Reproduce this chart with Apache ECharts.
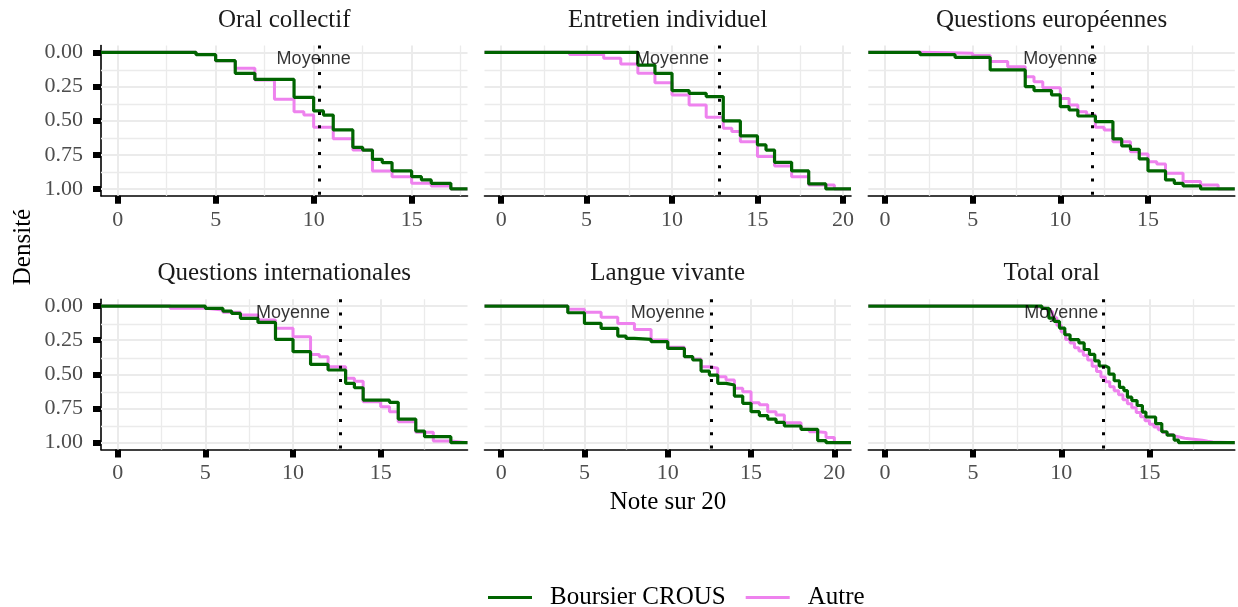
<!DOCTYPE html>
<html>
<head>
<meta charset="utf-8">
<script src="https://cdn.jsdelivr.net/npm/echarts@6/dist/echarts.min.js"></script>
<style>
html, body { margin: 0; padding: 0; background: #fff; }
#chart { width: 1238px; height: 607px; }
</style>
</head>
<body>
<div id="chart"></div>
<script>
// facettes
const panelTitles = ['Oral collectif', 'Entretien individuel', 'Questions européennes',
  'Questions internationales', 'Langue vivante', 'Total oral']
const means = [10.27, 12.76, 11.81, 12.68, 12.61, 12.38]
const xTicks = [[0, 5, 10, 15], [0, 5, 10, 15, 20], [0, 5, 10, 15],
  [0, 5, 10, 15], [0, 5, 10, 15, 20], [0, 5, 10, 15]]
const yTicks = [0, 0.25, 0.5, 0.75, 1]

// fonction de répartition : [note, proportion cumulée]
const oralCollectifBoursier = [[4, 0.017], [5, 0.061], [6, 0.154], [7, 0.198], [9, 0.329], [10, 0.429], [10.5, 0.459], [11, 0.568], [12, 0.695], [12.5, 0.715], [13, 0.783], [13.5, 0.807], [14, 0.868], [15, 0.91], [15.5, 0.934], [16, 0.959], [17, 1]]
const oralCollectifAutre = [[4, 0.015], [5, 0.061], [6, 0.117], [7, 0.202], [8, 0.344], [9, 0.434], [9.5, 0.459], [10, 0.549], [11, 0.632], [12, 0.715], [13, 0.868], [14, 0.91], [15, 0.959], [16, 0.978], [17, 1]]

const entretienBoursier = [[8, 0.093], [9, 0.154], [10, 0.28], [11, 0.3], [12, 0.324], [13, 0.502], [14, 0.612], [15, 0.678], [15.5, 0.715], [16, 0.805], [17, 0.868], [18, 0.963], [19, 1]]
const entretienAutre = [[4, 0.015], [6, 0.044], [7, 0.085], [8, 0.154], [9, 0.222], [10, 0.312], [11, 0.385], [12, 0.476], [13, 0.556], [13.5, 0.58], [14, 0.654], [15, 0.763], [16, 0.832], [17, 0.91], [18, 0.971], [19.5, 1]]

const europeennesBoursier = [[2, 0.017], [4, 0.037], [6, 0.129], [8, 0.251], [8.5, 0.28], [9.5, 0.312], [10, 0.398], [10.5, 0.422], [11, 0.466], [12, 0.507], [13, 0.634], [13.5, 0.685], [14, 0.71], [14.5, 0.78], [15, 0.868], [16, 0.934], [16.5, 0.959], [17, 0.978], [18, 1]]
const europeennesAutre = [[2, 0.007], [5, 0.024], [6, 0.068], [7, 0.105], [8, 0.178], [8.5, 0.215], [9, 0.259], [10, 0.337], [10.5, 0.385], [11, 0.434], [11.5, 0.459], [12, 0.549], [12.5, 0.568], [13, 0.654], [14, 0.727], [14.5, 0.744], [15, 0.8], [15.5, 0.817], [16, 0.885], [17, 0.946], [18, 0.971], [19, 1]]

const internationalesBoursier = [[5, 0.017], [6, 0.037], [6.5, 0.054], [7, 0.09], [8, 0.12], [9, 0.244], [10, 0.334], [11, 0.427], [12, 0.468], [13, 0.566], [13.5, 0.598], [14, 0.688], [15.5, 0.705], [16, 0.827], [17, 0.915], [17.5, 0.956], [19, 1]]
const internationalesAutre = [[3, 0.017], [5, 0.03], [6, 0.046], [7, 0.066], [8, 0.102], [9, 0.163], [10, 0.224], [11, 0.354], [11.5, 0.371], [12, 0.444], [13, 0.529], [13.5, 0.55], [14, 0.7], [15, 0.737], [15.5, 0.773], [16, 0.846], [17, 0.924], [18, 0.988], [19, 1]]

const langueBoursier = [[4, 0.049], [5, 0.127], [6, 0.163], [7, 0.22], [7.5, 0.237], [8, 0.244], [9, 0.261], [10, 0.31], [11, 0.371], [11.5, 0.395], [12, 0.476], [12.5, 0.505], [13, 0.566], [13.5, 0.578], [14, 0.659], [14.5, 0.712], [15, 0.773], [15.5, 0.802], [16, 0.827], [16.5, 0.851], [17, 0.878], [18, 0.902], [19, 0.985], [19.5, 1]]
const langueAutre = [[4, 0.024], [5, 0.046], [6, 0.083], [7, 0.127], [8, 0.171], [9, 0.249], [10, 0.302], [11, 0.371], [11.5, 0.388], [12, 0.444], [12.5, 0.456], [13, 0.517], [13.5, 0.541], [14, 0.602], [14.5, 0.627], [15, 0.707], [15.5, 0.722], [16, 0.773], [16.5, 0.798], [17, 0.854], [18, 0.902], [18.5, 0.92], [19, 0.925], [19.5, 0.963], [20, 1]]

const totalBoursier = [[8.9, 0.017], [9.3, 0.089], [9.6, 0.113], [9.9, 0.161], [10.2, 0.21], [10.5, 0.246], [11, 0.27], [11.3, 0.318], [11.6, 0.354], [11.9, 0.402], [12.15, 0.439], [12.5, 0.451], [12.7, 0.499], [13, 0.547], [13.3, 0.595], [13.55, 0.619], [13.75, 0.667], [14, 0.692], [14.3, 0.728], [14.6, 0.776], [14.8, 0.812], [15.35, 0.86], [15.7, 0.92], [16, 0.945], [16.4, 0.981], [16.65, 1]]
const totalAutre = [[8, 0.003], [8.5, 0.008], [8.75, 0.012], [9, 0.02], [9.25, 0.04], [9.5, 0.085], [9.75, 0.14], [10, 0.19], [10.25, 0.245], [10.5, 0.27], [10.75, 0.305], [11, 0.33], [11.25, 0.36], [11.5, 0.395], [11.75, 0.44], [12, 0.48], [12.25, 0.52], [12.5, 0.555], [12.75, 0.59], [13, 0.62], [13.25, 0.65], [13.5, 0.685], [13.75, 0.715], [14, 0.745], [14.25, 0.78], [14.5, 0.81], [14.75, 0.84], [15, 0.865], [15.25, 0.885], [15.5, 0.905], [15.75, 0.925], [16, 0.94], [16.25, 0.952], [16.5, 0.96], [16.75, 0.968], [17, 0.975], [17.5, 0.983], [18, 0.99], [18.3, 0.995], [18.6, 1]]

const boursierData = [oralCollectifBoursier, entretienBoursier, europeennesBoursier, internationalesBoursier, langueBoursier, totalBoursier]
const autreData = [oralCollectifAutre, entretienAutre, europeennesAutre, internationalesAutre, langueAutre, totalAutre]

// mise en page
const xLimits = [[-0.85, 17.85], [-0.975, 20.475], [-0.95, 19.95], [-0.95, 19.95], [-1, 21], [-0.94, 19.84]]
const colLeft = [101, 484.5, 868.3]
const rowTop = [45.5, 299.2]
const panelW = 366.5
const panelH = 150.3

const SERIF = '"Liberation Serif", "Times New Roman", serif'
const GREEN = '#006400'
const PINK = '#ee82ee'
const GRID = '#ebebeb'

const chart = echarts.init(document.getElementById('chart'))

const grids = [], xAxes = [], yAxes = [], series = [], graphics = []

function gridLines(i) {
  const hi = xLimits[i][1]
  const lines = []
  for (let v = 0; v <= hi; v += 2.5) {
    lines.push({ xAxis: v, lineStyle: { color: GRID, width: v % 5 === 0 ? 2 : 1.3, type: 'solid' } })
  }
  for (let v = 0; v <= 1; v += 0.125) {
    lines.push({ yAxis: v, lineStyle: { color: GRID, width: (v * 8) % 2 === 0 ? 2 : 1.3, type: 'solid' } })
  }
  return lines
}

panelTitles.forEach((title, i) => {
  const col = i % 3
  const row = Math.floor(i / 3)
  const [xMin, xMax] = xLimits[i]
  grids.push({ left: colLeft[col], top: rowTop[row], width: panelW, height: panelH })
  xAxes.push({
    gridIndex: i, type: 'value', min: xMin, max: xMax,
    axisLine: { show: true, onZero: false, lineStyle: { color: '#000', width: 1.6 } },
    axisTick: { show: true, customValues: xTicks[i], length: 8, lineStyle: { color: '#000', width: 6 } },
    axisLabel: { customValues: xTicks[i], margin: 13, color: '#4d4d4d', fontFamily: SERIF, fontSize: 22 },
    splitLine: { show: false }
  })
  const first = col === 0
  yAxes.push({
    gridIndex: i, type: 'value', inverse: true, min: -0.05, max: 1.05,
    axisLine: { show: first, onZero: false, lineStyle: { color: '#000', width: 1.6 } },
    axisTick: { show: first, customValues: yTicks, length: 8, lineStyle: { color: '#000', width: 6 } },
    axisLabel: { show: first, customValues: yTicks, margin: 18, color: '#4d4d4d', fontFamily: SERIF, fontSize: 22,
      formatter: v => v.toFixed(2) },
    splitLine: { show: false }
  })
  // quadrillage (sous les courbes)
  series.push({
    type: 'line', xAxisIndex: i, yAxisIndex: i, data: [], silent: true, z: 1, animation: false,
    markLine: { z: 1, silent: true, symbol: 'none', animation: false, label: { show: false }, data: gridLines(i) }
  })
  series.push({
    name: 'Autre', type: 'line', step: 'end', xAxisIndex: i, yAxisIndex: i, z: 2,
    data: [[xMin, 0], ...autreData[i], [xMax, 1]],
    symbol: 'none', showSymbol: false, animation: false, silent: true,
    lineStyle: { color: PINK, width: 3 }, itemStyle: { color: PINK }
  })
  series.push({
    name: 'Boursier CROUS', type: 'line', step: 'end', xAxisIndex: i, yAxisIndex: i, z: 3,
    data: [[xMin, 0], ...boursierData[i], [xMax, 1]],
    symbol: 'none', showSymbol: false, animation: false, silent: true,
    lineStyle: { color: GREEN, width: 3.2 }, itemStyle: { color: GREEN }
  })
  // moyenne
  series.push({
    type: 'line', xAxisIndex: i, yAxisIndex: i, data: [], silent: true, z: 4, animation: false,
    markLine: { z: 4, silent: true, symbol: 'none', animation: false, label: { show: false },
      lineStyle: { color: '#000', width: 3, type: [3, 10.3] },
      data: [{ xAxis: means[i] }] }
  })
  series.push({
    type: 'scatter', xAxisIndex: i, yAxisIndex: i, z: 5, silent: true, animation: false,
    data: [[10, 0.05]], symbolSize: 0, itemStyle: { color: 'rgba(0,0,0,0)' },
    label: { show: true, position: 'inside', formatter: 'Moyenne', color: '#000',
      fontFamily: '"Liberation Sans", Arial, sans-serif', fontSize: 18 }
  })
  graphics.push({
    type: 'text', x: colLeft[col] + panelW / 2, y: row === 0 ? 20 : 273,
    style: { text: title, fill: '#1a1a1a', font: '25px ' + SERIF,
      align: 'center', verticalAlign: 'middle', textAlign: 'center', textVerticalAlign: 'middle' }
  })
})

graphics.push({
  type: 'text', x: 23, y: 247, rotation: Math.PI / 2,
  style: { text: 'Densité', fill: '#000', font: '25px ' + SERIF,
    align: 'center', verticalAlign: 'middle', textAlign: 'center', textVerticalAlign: 'middle' }
})
graphics.push({
  type: 'text', x: 668, y: 502,
  style: { text: 'Note sur 20', fill: '#000', font: '25px ' + SERIF,
    align: 'center', verticalAlign: 'middle', textAlign: 'center', textVerticalAlign: 'middle' }
})

chart.setOption({
  backgroundColor: '#fff',
  animation: false,
  grid: grids,
  xAxis: xAxes,
  yAxis: yAxes,
  series: series,
  graphic: graphics,
  legend: {
    data: ['Boursier CROUS', 'Autre'],
    left: 483, top: 580,
    icon: 'rect', itemWidth: 44, itemHeight: 3, itemGap: 20,
    textStyle: { fontFamily: SERIF, fontSize: 25, color: '#000', padding: [0, 0, 0, 13] }
  }
})
</script>
</body>
</html>
